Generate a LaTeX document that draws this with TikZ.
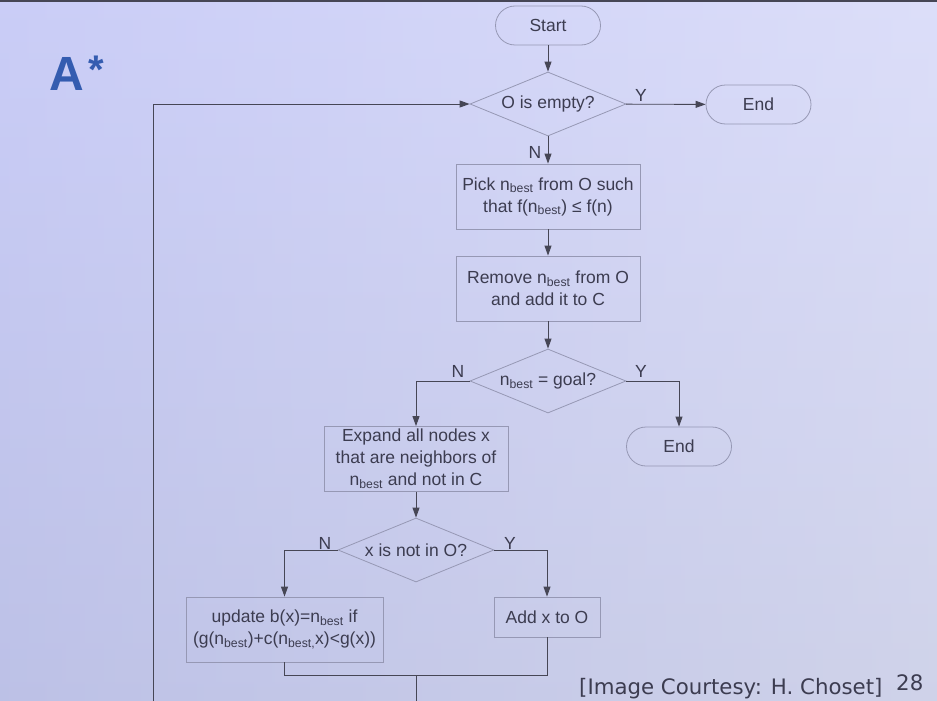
\documentclass[tikz,border=0pt]{standalone}
\usepackage{fontspec}
\setmainfont{Liberation Sans}
\newfontfamily\footfont{DejaVu Sans}
\usetikzlibrary{shapes.geometric,arrows.meta}
\definecolor{bgtop}{RGB}{202,205,247}
\definecolor{bgbot}{RGB}{182,187,222}
\definecolor{boxc}{RGB}{150,152,180}
\definecolor{linec}{RGB}{70,70,85}
\definecolor{txtc}{RGB}{60,60,80}
\definecolor{titleblue}{RGB}{52,92,176}
\newcommand\nbest{n\textsubscript{best}}
\begin{document}
\begin{tikzpicture}[x=1pt,y=-1pt,
  every node/.style={text=txtc, font=\fontsize{17.5}{22}\selectfont},
  term/.style={draw=boxc, line width=0.8pt, rounded corners=19.5pt, minimum width=105pt, minimum height=39pt, inner sep=0pt},
  proc/.style={draw=boxc, line width=0.8pt, minimum width=184pt, minimum height=65pt, align=center, inner sep=0pt},
  dec/.style={draw=boxc, line width=0.8pt, diamond, aspect=2.4, minimum width=156pt, minimum height=64pt, inner sep=0pt},
  conn/.style={draw=linec, line width=0.9pt},
  arr/.style={conn, -{Triangle[length=10pt,width=7pt]}},
  lbl/.style={inner sep=0pt, font=\fontsize{17.5}{17.5}\selectfont}]
\useasboundingbox (0,0) rectangle (937,701);
\shade[top color=bgtop, bottom color=bgbot] (0,0) rectangle (937,701);
\shade[left color=bgtop, right color=white, opacity=0.35] (0,0) rectangle (937,701);
\fill[linec] (0,0) rectangle (937,2);

% title
\node[text=titleblue, font=\fontsize{48}{48}\selectfont\bfseries, anchor=base west, inner sep=0pt] (title) at (49,91) {A};
\node[text=titleblue, font=\fontsize{40}{40}\selectfont\bfseries, anchor=base, inner sep=0pt] (star) at (96,84) {*};

% nodes
\node[term] (start) at (548,25.5) {Start};
\node[dec] (d1) at (548,104) {O is empty?};
\node[term] (end1) at (758.5,104.5) {End};
\node[proc] (pick) at (548,196.5) {Pick \nbest\ from O such\\that f(\nbest) ≤ f(n)};
\node[proc] (remove) at (548,288.5) {Remove \nbest\ from O\\and add it to C};
\node[dec] (d2) at (548,381) {\nbest\ = goal?};
\node[term] (end2) at (679,446.5) {End};
\node[proc] (expand) at (416,459) {Expand all nodes x\\that are neighbors of\\\nbest\ and not in C};
\node[dec] (d3) at (416,550) {x is not in O?};
\node[proc, minimum width=197pt] (update) at (284.5,629.5) {update b(x)=\nbest\ if\\(g(\nbest)+c(n\textsubscript{best,}x)<g(x))};
\node[proc, minimum width=106pt, minimum height=40pt] (add) at (547,617) {Add x to O};

% connectors
\draw[arr] (start) -- (d1);
\draw[arr] (d1) -- (end1);
\draw[arr] (d1) -- (pick);
\draw[arr] (pick) -- (remove);
\draw[arr] (remove) -- (d2);
\draw[arr] (d2.west) -| (expand.north);
\draw[arr] (d2.east) -| (end2.north);
\draw[arr] (expand) -- (d3);
\draw[arr] (d3.west) -| (update.north);
\draw[arr] (d3.east) -| (add.north);
\coordinate (ml) at (284.5,675);
\coordinate (mr) at (547,675);
\coordinate (mm) at (416,675);
\coordinate (mb) at (416,701);
\coordinate (lb) at (153,701);
\coordinate (lt) at (153,104);
\draw[conn] (update.south) -- (ml) -- (mr) -- (add.south);
\draw[conn] (mm) -- (mb);
\draw[arr] (lb) -- (lt) -- (d1.west);

% labels
\node[lbl, anchor=base] (y1) at (641,101) {Y};
\node[lbl, anchor=base] (n1) at (535,158) {N};
\node[lbl, anchor=base] (n2) at (458,377) {N};
\node[lbl, anchor=base] (y2) at (641,377) {Y};
\node[lbl, anchor=base] (n3) at (325,549) {N};
\node[lbl, anchor=base] (y3) at (510,549) {Y};

% footer
\node[font=\footfont\fontsize{21.3}{21.3}\selectfont, anchor=base west, inner sep=0pt] (court) at (579,694) {[Image Courtesy: H. Choset]};
\node[font=\footfont\fontsize{21.3}{21.3}\selectfont, anchor=base west, inner sep=0pt] (page) at (896,690) {28};
\end{tikzpicture}
\end{document}
